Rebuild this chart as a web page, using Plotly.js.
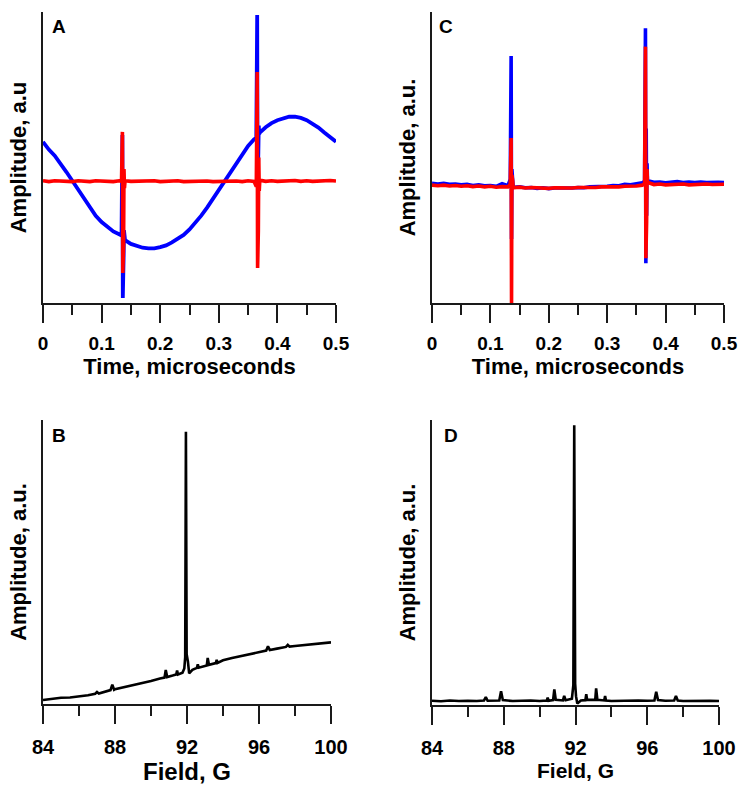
<!DOCTYPE html>
<html>
<head>
<meta charset="utf-8">
<script src="https://cdn.plot.ly/plotly-3.0.1.min.js"></script>
<style>html,body{margin:0;padding:0;background:#fff;}#chart{width:742px;height:785px;}</style>
</head>
<body>
<div id="chart"></div>
<script>
// ---- Panels A and C: time traces (time in microseconds, amplitude in a.u.) ----
const timeUs = [0,0.01,0.02,0.03,0.04,0.05,0.06,0.07,0.08,0.09,0.10,0.11,0.12,0.13,
  0.134,0.1355,0.1362,0.1368,0.1375,0.1382,0.139,
  0.14,0.15,0.16,0.17,0.18,0.19,0.20,0.21,0.22,0.23,0.24,0.25,0.26,0.27,0.28,0.29,0.30,0.31,0.32,0.33,0.34,0.35,0.36,
  0.364,0.3655,0.3662,0.3668,0.3675,0.3682,0.369,
  0.37,0.38,0.39,0.40,0.41,0.42,0.43,0.44,0.45,0.46,0.47,0.48,0.49,0.50];

const blueA = [55.4,52.7,50.6,48.0,45.0,42.0,39.0,35.8,32.5,30.0,27.8,26.0,24.6,23.6,
  23.2,57.7,1.7,35,15,25,22.0,
  21.6,20.3,19.6,19.0,18.8,18.8,19.2,19.8,20.8,22.0,23.4,25.3,27.5,30.0,32.8,35.8,38.9,42.2,45.3,48.3,51.2,54.0,56.2,
  56.8,99.0,40,70,52,61,58.0,
  58.6,60.4,61.8,62.8,63.5,64.0,64.0,63.6,62.8,61.7,60.3,58.6,57.0,55.4];

const redA = [42.0,41.7,42.0,41.8,41.9,41.7,42.0,41.8,41.7,42.0,41.8,41.9,41.7,42.0,
  41.8,58.8,10.3,52,20,46,39.5,
  42.0,41.8,41.9,41.7,41.8,42.0,41.7,41.9,41.8,42.0,41.7,41.8,42.0,41.8,41.9,41.7,41.8,42.0,41.8,41.9,41.7,42.0,41.8,
  40.0,79.4,12.0,65,25,50,38.5,
  42.2,41.8,42.0,41.8,42.0,41.9,42.1,41.8,42.0,41.8,42.0,41.9,42.1,41.9];

const blueC = [41.1,40.9,41.1,40.8,40.9,40.6,40.8,40.4,40.6,40.3,40.4,40.1,41.0,40.3,
  42.5,84.9,22,46,36,42,40.0,
  39.8,39.9,39.6,39.7,39.4,39.6,39.3,39.5,39.4,39.6,39.5,39.7,39.6,39.9,39.9,40.2,40.1,40.4,40.3,40.8,40.6,41.0,41.3,
  41.8,94.4,13.7,60,30,48,41.5,
  42.0,41.5,41.6,41.3,41.5,41.7,41.4,41.6,41.4,41.6,41.4,41.6,41.5,41.4];

const redC = [40.5,40.3,40.5,40.2,40.4,40.1,40.3,40.0,40.2,39.9,40.1,39.8,40.0,39.9,
  40.8,56.7,0,44,32,42,39.5,
  39.6,39.8,39.5,39.7,39.5,39.6,39.4,39.6,39.5,39.7,39.5,39.7,39.6,39.8,39.7,39.9,39.8,40.0,39.9,40.1,40.0,40.2,40.5,
  41.0,88.1,15.4,58,28,46,41.0,
  41.4,40.7,40.9,40.6,40.8,40.7,40.9,40.6,40.8,40.7,40.9,40.7,40.9,40.8];

// ---- Panel B: field sweep (G) ----
const fieldB = [84.0,84.5,85.0,85.5,86.0,86.5,86.9,87.0,87.1,87.5,87.75,87.85,87.95,88.0,88.5,89.0,89.5,90.0,90.5,90.75,90.82,90.9,
  91.2,91.4,91.45,91.5,91.75,91.85,91.9,91.94,91.98,92.05,92.12,92.3,92.55,92.6,92.65,92.9,93.1,93.15,93.22,93.6,93.65,93.7,
  94.0,94.5,95.0,95.5,96.0,96.4,96.5,96.6,97.0,97.5,97.6,97.7,98.0,98.5,99.0,99.5,100.0];
const ampB = [1.4,1.9,2.2,2.3,2.6,3.1,3.6,4.2,3.7,4.5,4.9,6.8,5.0,5.2,5.9,6.7,7.5,8.1,9.0,9.3,12.0,9.5,
  10.0,10.4,11.8,10.4,11.0,12.5,16.5,95.9,17.5,15.0,10.8,12.0,12.7,14.0,12.8,13.3,13.6,16.2,13.8,14.4,15.5,14.5,
  15.4,16.2,16.9,17.6,18.3,18.8,20.3,19.0,19.5,20.1,20.8,20.2,20.4,20.7,21.0,21.4,21.7];

// ---- Panel D: field sweep (G) ----
const fieldD = [84.0,84.5,85.0,85.5,86.0,86.5,86.9,87.0,87.1,87.5,87.75,87.85,87.95,88.5,89.0,89.5,90.0,90.4,90.45,90.5,90.75,90.82,90.9,
  91.3,91.37,91.45,91.8,91.88,91.93,91.98,92.03,92.1,92.3,92.55,92.6,92.65,93.1,93.15,93.22,93.6,93.65,93.7,
  94.0,94.5,95.0,95.5,96.0,96.4,96.5,96.6,97.0,97.5,97.6,97.7,98.0,98.5,99.0,99.5,100.0];
const ampD = [1.5,1.3,1.6,1.4,1.5,1.4,1.6,2.8,1.5,1.4,1.6,4.8,1.7,1.4,1.5,1.6,1.4,1.6,2.6,1.5,1.7,5.5,1.8,
  1.6,3.2,1.7,2.2,7.0,98.2,7.5,3.0,0.5,1.6,1.7,3.8,1.8,1.8,5.8,1.8,1.6,3.2,1.6,
  1.4,1.5,1.4,1.6,1.5,1.6,4.6,1.7,1.5,1.6,3.2,1.6,1.4,1.5,1.4,1.5,1.4];

const panelLetters = ['A','B','C','D'];
const xTitleTime = 'Time, microseconds';
const xTitleField = 'Field, G';

const FONT = 'Liberation Sans, Arial, Helvetica, sans-serif';
const AX = '#1a1a1a';
const W = 742, H = 785;

function px(x){ return x / W; }
function py(y){ return 1 - y / H; }

function xAxis(l, r, anchor, range, dtick, tick0, minorDtick, tickSize, labelStandoff, titleText, titleSize, standoff){
  return {
    domain:[px(l), px(r)], anchor: anchor, range: range,
    showline:true, linewidth:2, linecolor:AX, showgrid:false, zeroline:false,
    ticks:'outside', ticklen:18, tickwidth:2, tickcolor:AX,
    tick0: tick0, dtick: dtick, ticklabelstandoff: labelStandoff,
    minor:{ticks:'outside', dtick:minorDtick, tick0: tick0, ticklen:10, tickwidth:2, tickcolor:AX, showgrid:false},
    tickfont:{family:FONT, size:tickSize, color:'#000', weight:'bold'},
    title:{text:titleText, font:{family:FONT, size:titleSize, color:'#000', weight:'bold'}, standoff: standoff},
    fixedrange:true
  };
}
function yAxis(t, b, anchor, titleText, standoff){
  return {
    domain:[py(b), py(t)], anchor: anchor, range:[0,100],
    showline:true, linewidth:2, linecolor:AX, showgrid:false, zeroline:false,
    ticks:'', showticklabels:false,
    title:{text:titleText, font:{family:FONT, size:22, color:'#000', weight:'bold'}, standoff: standoff},
    fixedrange:true
  };
}

const traces = [
  {x:timeUs, y:blueA, xaxis:'x', yaxis:'y', mode:'lines', line:{color:'#0000ff', width:3.8}},
  {x:timeUs, y:redA, xaxis:'x', yaxis:'y', mode:'lines', line:{color:'#ff0000', width:3.6}},
  {x:timeUs, y:blueC, xaxis:'x2', yaxis:'y2', mode:'lines', line:{color:'#0000ff', width:3.6}},
  {x:timeUs, y:redC, xaxis:'x2', yaxis:'y2', mode:'lines', line:{color:'#ff0000', width:3.6}},
  {x:fieldB, y:ampB, xaxis:'x3', yaxis:'y3', mode:'lines', line:{color:'#000', width:2.6}},
  {x:fieldD, y:ampD, xaxis:'x4', yaxis:'y4', mode:'lines', line:{color:'#000', width:2.6}}
];

function letter(t, x, y){
  return {text:t, xref:'paper', yref:'paper', x:px(x), y:py(y), xanchor:'center', yanchor:'middle',
    showarrow:false, font:{family:FONT, size:19, color:'#000', weight:'bold'}};
}

const layout = {
  width:W, height:H, margin:{l:0,r:0,t:0,b:0},
  paper_bgcolor:'#fff', plot_bgcolor:'#fff', showlegend:false,
  font:{family:FONT, color:'#000'},
  xaxis: xAxis(43, 336, 'y', [0,0.5], 0.1, 0, 0.05, 19, 4, xTitleTime, 22, 4),
  yaxis: yAxis(12, 303, 'x', 'Amplitude, a.u', 8),
  xaxis2: xAxis(432, 724, 'y2', [0,0.5], 0.1, 0, 0.05, 19, 4, xTitleTime, 22, 4),
  yaxis2: yAxis(12, 303, 'x2', 'Amplitude, a.u.', 8),
  xaxis3: xAxis(43, 331, 'y3', [84,100], 4, 84, 2, 20, 6, xTitleField, 24, 2),
  yaxis3: yAxis(420, 704, 'x3', 'Amplitude, a.u.', 8),
  xaxis4: xAxis(432, 719, 'y4', [84,100], 4, 84, 2, 20, 6, xTitleField, 21, 2),
  yaxis4: yAxis(420, 705, 'x4', 'Amplitude, a.u.', 8),
  annotations:[
    letter(panelLetters[0], 58.5, 26.5),
    letter(panelLetters[1], 58.5, 435),
    letter(panelLetters[2], 445.5, 26.5),
    letter(panelLetters[3], 451, 435)
  ]
};

Plotly.newPlot('chart', traces, layout, {staticPlot:true, displayModeBar:false});
</script>
</body>
</html>
